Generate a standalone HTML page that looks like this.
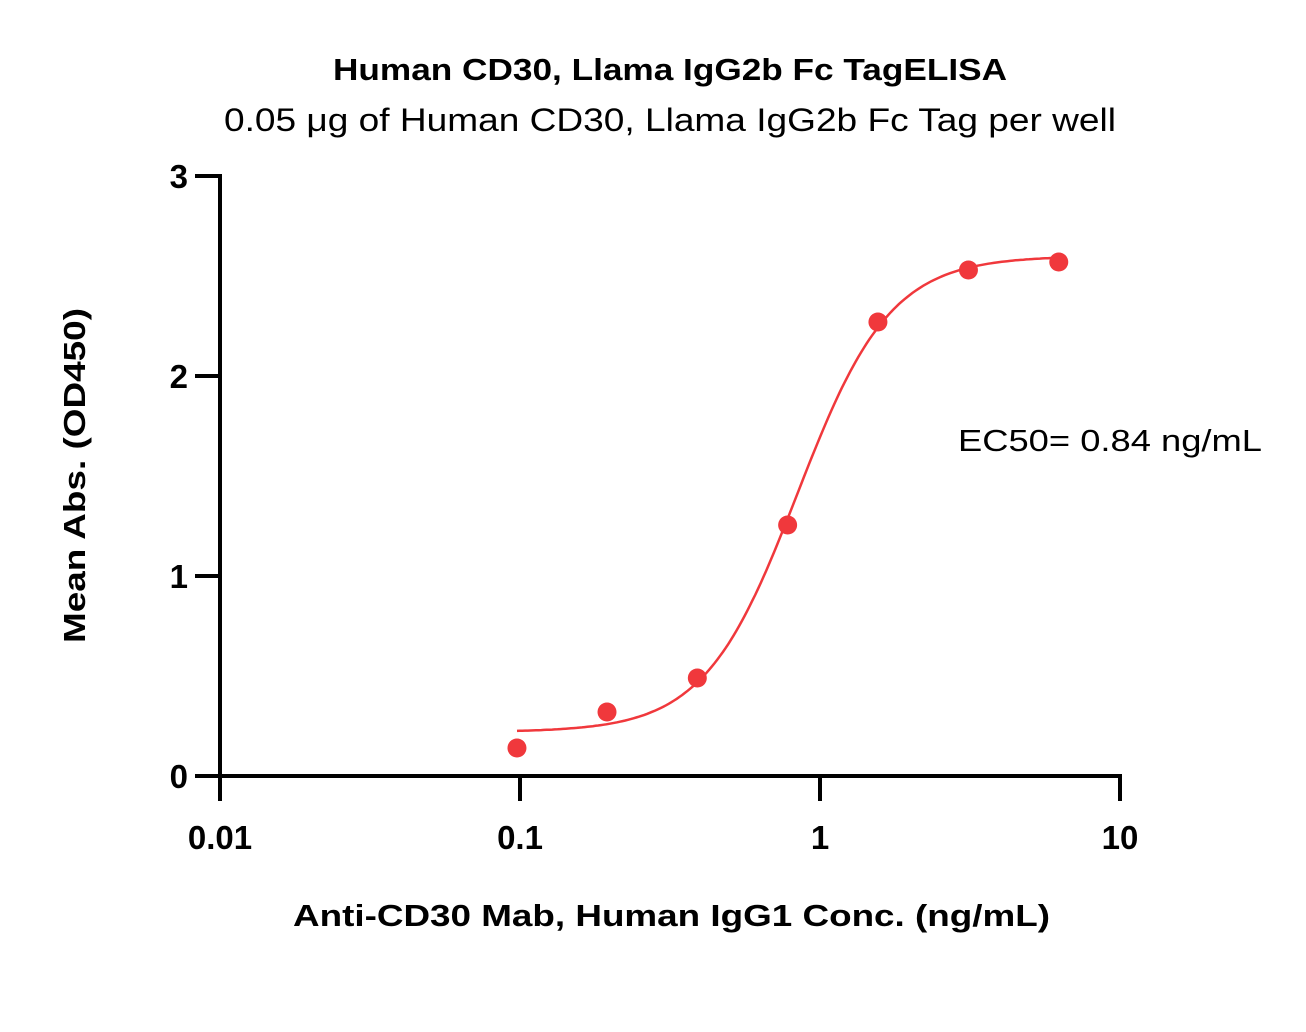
<!DOCTYPE html>
<html><head><meta charset="utf-8"><style>
body{margin:0;background:#fff;}
svg{display:block;font-family:"Liberation Sans",sans-serif;}
</style></head><body>
<svg id="chart" width="1306" height="1032">
<text x="333" y="80" textLength="674" lengthAdjust="spacingAndGlyphs" font-size="31" font-weight="bold">Human CD30, Llama IgG2b Fc TagELISA</text>
<text x="224" y="131" textLength="892" lengthAdjust="spacingAndGlyphs" font-size="32">0.05 μg of Human CD30, Llama IgG2b Fc Tag per well</text>
<g id="axes"></g>
<g id="series"></g>
<text x="958" y="451" textLength="304" lengthAdjust="spacingAndGlyphs" font-size="31">EC50= 0.84 ng/mL</text>
<text x="293" y="926" textLength="757" lengthAdjust="spacingAndGlyphs" font-size="31" font-weight="bold">Anti-CD30 Mab, Human IgG1 Conc. (ng/mL)</text>
<text transform="translate(85,643) rotate(-90)" textLength="335" lengthAdjust="spacingAndGlyphs" font-size="31" font-weight="bold">Mean Abs. (OD450)</text>
</svg>
<script>
const xConc=[0.0977,0.195,0.39,0.78,1.56,3.125,6.25];
const yAbs=[0.14,0.32,0.49,1.255,2.27,2.53,2.57];
const xTicks=[0.01,0.1,1,10];
const xTickLabels=["0.01","0.1","1","10"];
const yTicks=[0,1,2,3];
const yTickLabels=["0","1","2","3"];
const fitBottom=0.22, fitTop=2.6, fitEC50=0.84, fitHill=2.8;
const NS="http://www.w3.org/2000/svg";
function X(v){return 220+300*(Math.log10(v)+2);}
function Y(v){return 776-200*v;}
function mk(t,a,p){const e=document.createElementNS(NS,t);for(const k in a)e.setAttribute(k,a[k]);p.appendChild(e);return e;}
const ax=document.getElementById('axes'), se=document.getElementById('series');
let l=mk('line',{x1:220,y1:Y(3)-2,x2:220,y2:Y(0)+2,stroke:'#000','stroke-width':4},ax);


l=mk('line',{x1:218,y1:Y(0),x2:X(10)+2,y2:Y(0),stroke:'#000','stroke-width':4},ax);


yTicks.forEach((v,i)=>{
 const t=mk('line',{x1:195,y1:Y(v),x2:220,y2:Y(v),stroke:'#000','stroke-width':4},ax);
 
 
 const tx=mk('text',{x:188,y:Y(v)+12,'text-anchor':'end','font-size':33,'font-weight':'bold'},ax);
 tx.textContent=yTickLabels[i];
 
 
});
xTicks.forEach((v,i)=>{
 const t=mk('line',{x1:X(v),y1:Y(0),x2:X(v),y2:Y(0)+25,stroke:'#000','stroke-width':4},ax);
 
 
 const tx=mk('text',{x:X(v),y:849,'text-anchor':'middle','font-size':33,'font-weight':'bold'},ax);
 tx.textContent=xTickLabels[i];
 
 
});
let d='';
const lo=Math.log10(xConc[0]), hi=Math.log10(xConc[xConc.length-1]);
for(let i=0;i<=200;i++){const lx=lo+(hi-lo)*i/200, x=Math.pow(10,lx);
 const y=fitBottom+(fitTop-fitBottom)/(1+Math.pow(fitEC50/x,fitHill));
 d+=(i?'L':'M')+X(x).toFixed(1)+','+Y(y).toFixed(1);}
const c=mk('path',{d:d,fill:'none',stroke:'#f0383c','stroke-width':2.5},se);


xConc.forEach((v,i)=>{
 const p=mk('circle',{cx:X(v),cy:Y(yAbs[i]),r:9.5,fill:'#f0383c'},se);
 
 
});
</script>
</body></html>
